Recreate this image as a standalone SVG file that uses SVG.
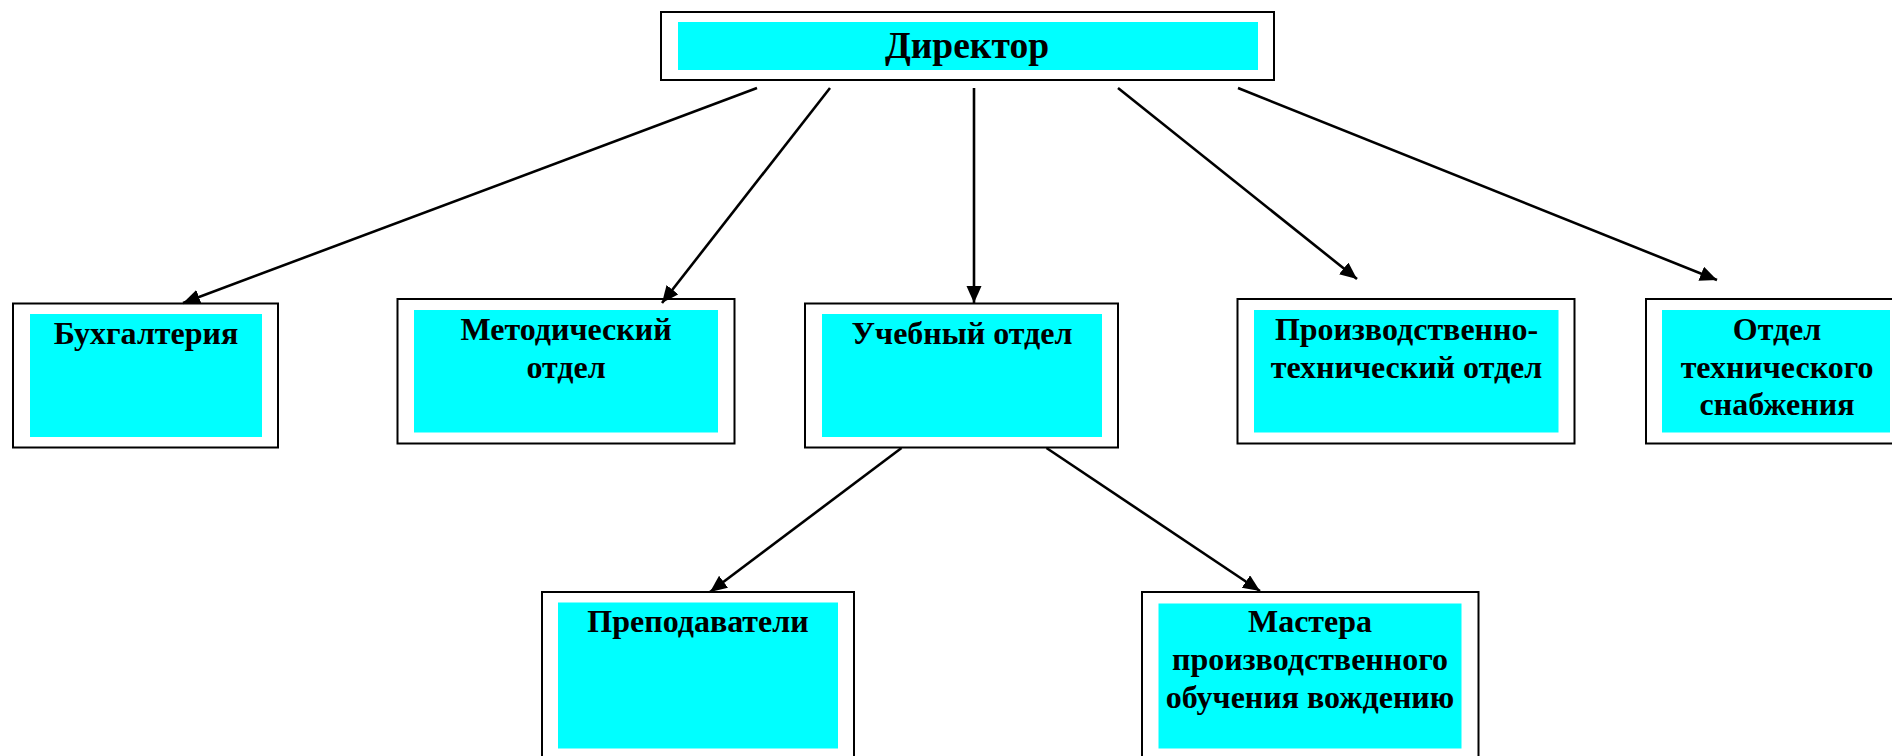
<svg xmlns="http://www.w3.org/2000/svg" width="1892" height="756" viewBox="0 0 1892 756">
<defs>
<style>
.outer{fill:#fff;stroke:#000;stroke-width:2}
.inner{fill:#00ffff;stroke:none}
.t{font-family:"Liberation Serif","Times New Roman",serif;font-weight:bold;font-size:32px;fill:#000;text-anchor:middle}
.big{font-size:37.5px}
.conn line{stroke:#000;stroke-width:2.6;marker-end:url(#arr)}
</style>
<marker id="arr" markerUnits="userSpaceOnUse" markerWidth="20" markerHeight="16" refX="17" refY="7.5" orient="auto">
<path d="M0,0 L17,7.5 L0,15 z" fill="#000"/>
</marker>
</defs>
<rect width="1892" height="756" fill="#fff"/>
<g id="n-director">
<rect class="outer" x="661" y="12" width="613" height="68"/>
<rect class="inner" x="678" y="22" width="580" height="48"/>
<text class="t big" x="967" y="58">Директор</text>
</g>
<g id="n-buh">
<rect class="outer" x="13" y="303.5" width="265" height="144"/>
<rect class="inner" x="30" y="314" width="232" height="123"/>
<text class="t" x="146" y="344">Бухгалтерия</text>
</g>
<g id="n-metod">
<rect class="outer" x="397.5" y="299" width="337" height="144.5"/>
<rect class="inner" x="414" y="310" width="304" height="122.5"/>
<text class="t" x="566" y="339.5">Методический</text>
<text class="t" x="566" y="377.5">отдел</text>
</g>
<g id="n-ucheb">
<rect class="outer" x="805" y="303.5" width="313" height="144"/>
<rect class="inner" x="822" y="314" width="280" height="123"/>
<text class="t" x="962" y="343.5">Учебный отдел</text>
</g>
<g id="n-proizv">
<rect class="outer" x="1237.5" y="299" width="337" height="144.5"/>
<rect class="inner" x="1254" y="310" width="304.5" height="122.5"/>
<text class="t" x="1406.5" y="340">Производственно-</text>
<text class="t" x="1406.5" y="378">технический отдел</text>
</g>
<g id="n-snab">
<rect class="outer" x="1646" y="299" width="260" height="144.5"/>
<rect class="inner" x="1662" y="310" width="228" height="122.5"/>
<text class="t" x="1777" y="340">Отдел</text>
<text class="t" x="1777" y="377.5">технического</text>
<text class="t" x="1777" y="415">снабжения</text>
</g>
<g id="n-prep">
<rect class="outer" x="542" y="592" width="312" height="180"/>
<rect class="inner" x="558" y="602.5" width="280" height="146"/>
<text class="t" x="698" y="631.5">Преподаватели</text>
</g>
<g id="n-master">
<rect class="outer" x="1142" y="592" width="336.5" height="180"/>
<rect class="inner" x="1158.5" y="603.5" width="303" height="145"/>
<text class="t" x="1310" y="632">Мастера</text>
<text class="t" x="1310" y="670">производственного</text>
<text class="t" x="1310" y="708">обучения вождению</text>
</g>
<g id="connectors" class="conn">
<line x1="757" y1="88" x2="183" y2="303"/>
<line x1="830" y1="88" x2="662" y2="303"/>
<line x1="974" y1="88" x2="974" y2="303"/>
<line x1="1118" y1="88" x2="1357" y2="279"/>
<line x1="1238" y1="88" x2="1717" y2="280"/>
<line x1="901.5" y1="448" x2="710" y2="592"/>
<line x1="1046.5" y1="448" x2="1260" y2="591"/>
</g>
</svg>
